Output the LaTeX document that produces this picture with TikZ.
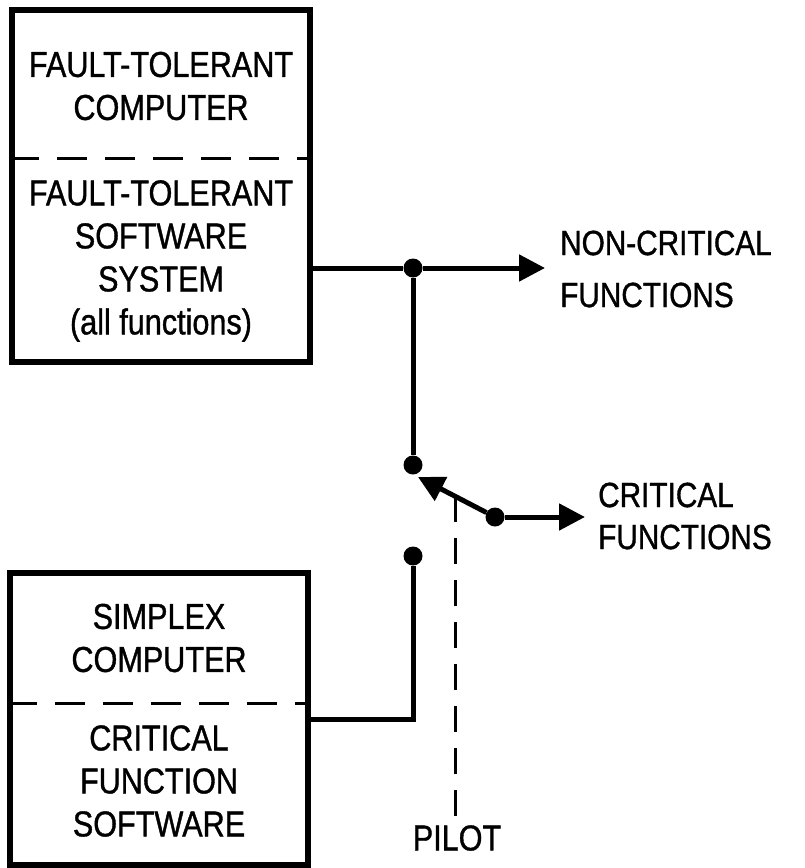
\documentclass[tikz,border=0pt]{standalone}
\usepackage{fontspec}
\setmainfont[FakeStretch=0.85,FakeBold=1]{Liberation Sans}
\usetikzlibrary{arrows.meta}
\tikzset{
	cmp_box/.style = {draw=black, line width=5.5pt, minimum width=298pt,
		inner sep=0pt},% boite calculateur
	box_txt/.style = {align=center, inner sep=0pt,
		font=\fontsize{36}{43}\selectfont},% texte dans les boites
	out_txt/.style = {align=left, anchor=west, inner sep=0pt,
		font=\fontsize{35}{52}\selectfont},% sorties a droite
	wire/.style = {line width=5pt},
	sep_ln/.style = {line width=3pt, dash pattern=on 30pt off 18pt},% separation
	pilot_ln/.style = {line width=3pt, dash pattern=on 26pt off 16pt},
	jdot/.style = {circle, fill=black, inner sep=0pt, minimum size=19pt}% contact
}

\begin{document}
\begin{tikzpicture}[x=1pt,y=-1pt,>={Triangle[length=26pt,width=26pt]}]
	\useasboundingbox (0,0) rectangle (804,868);
	% boites
	\node[cmp_box, minimum height=352pt] (ftc) at (161,186) {};
	\node[cmp_box, minimum height=292pt] (sc) at (159,719) {};
	\draw[sep_ln] (ftc.west |- 0,158) -- (ftc.east |- 0,158);
	\draw[sep_ln] (sc.west |- 0,703) -- (sc.east |- 0,703);
	\node[box_txt] (ftc_hw) at (161,86) {FAULT-TOLERANT\\COMPUTER};
	\node[box_txt] (ftc_sw) at (161,261) {FAULT-TOLERANT\\SOFTWARE\\SYSTEM\\(all functions)};
	\node[box_txt] (sc_hw) at (159,638) {SIMPLEX\\COMPUTER};
	\node[box_txt] (sc_sw) at (159,781) {CRITICAL\\FUNCTION\\SOFTWARE};
	% contacts du commutateur
	\node[jdot] (j_top) at (413,268) {};
	\node[jdot] (sw_a) at (413,465) {};
	\node[jdot] (sw_b) at (413,556) {};
	\node[jdot] (sw_c) at (495,517) {};
	\coordinate (nc_end) at (545,268);
	\coordinate (cf_end) at (585,517);
	\coordinate (arm_end) at (418,477);
	\coordinate (pl_top) at (455,496);
	% sorties
	\node[out_txt] (nc_lbl) at (560,269) {NON-CRITICAL\\FUNCTIONS};
	\node[out_txt, font=\fontsize{35}{42}\selectfont] (cf_lbl) at (598,516) {CRITICAL\\FUNCTIONS};
	\node[box_txt] (pilot) at (457,838) {PILOT};
	% liaisons
	\draw[wire] (ftc.east |- j_top) -- (j_top);
	\draw[wire,->] (j_top) -- (nc_end);
	\draw[wire] (j_top) -- (sw_a);
	\draw[wire,->] (sw_c) -- (arm_end);
	\draw[wire,->] (sw_c) -- (cf_end);
	\draw[wire] (sw_b) |- (sc.east);
	\draw[pilot_ln] (pl_top) -- (pl_top |- pilot.north);
\end{tikzpicture}
\end{document}
